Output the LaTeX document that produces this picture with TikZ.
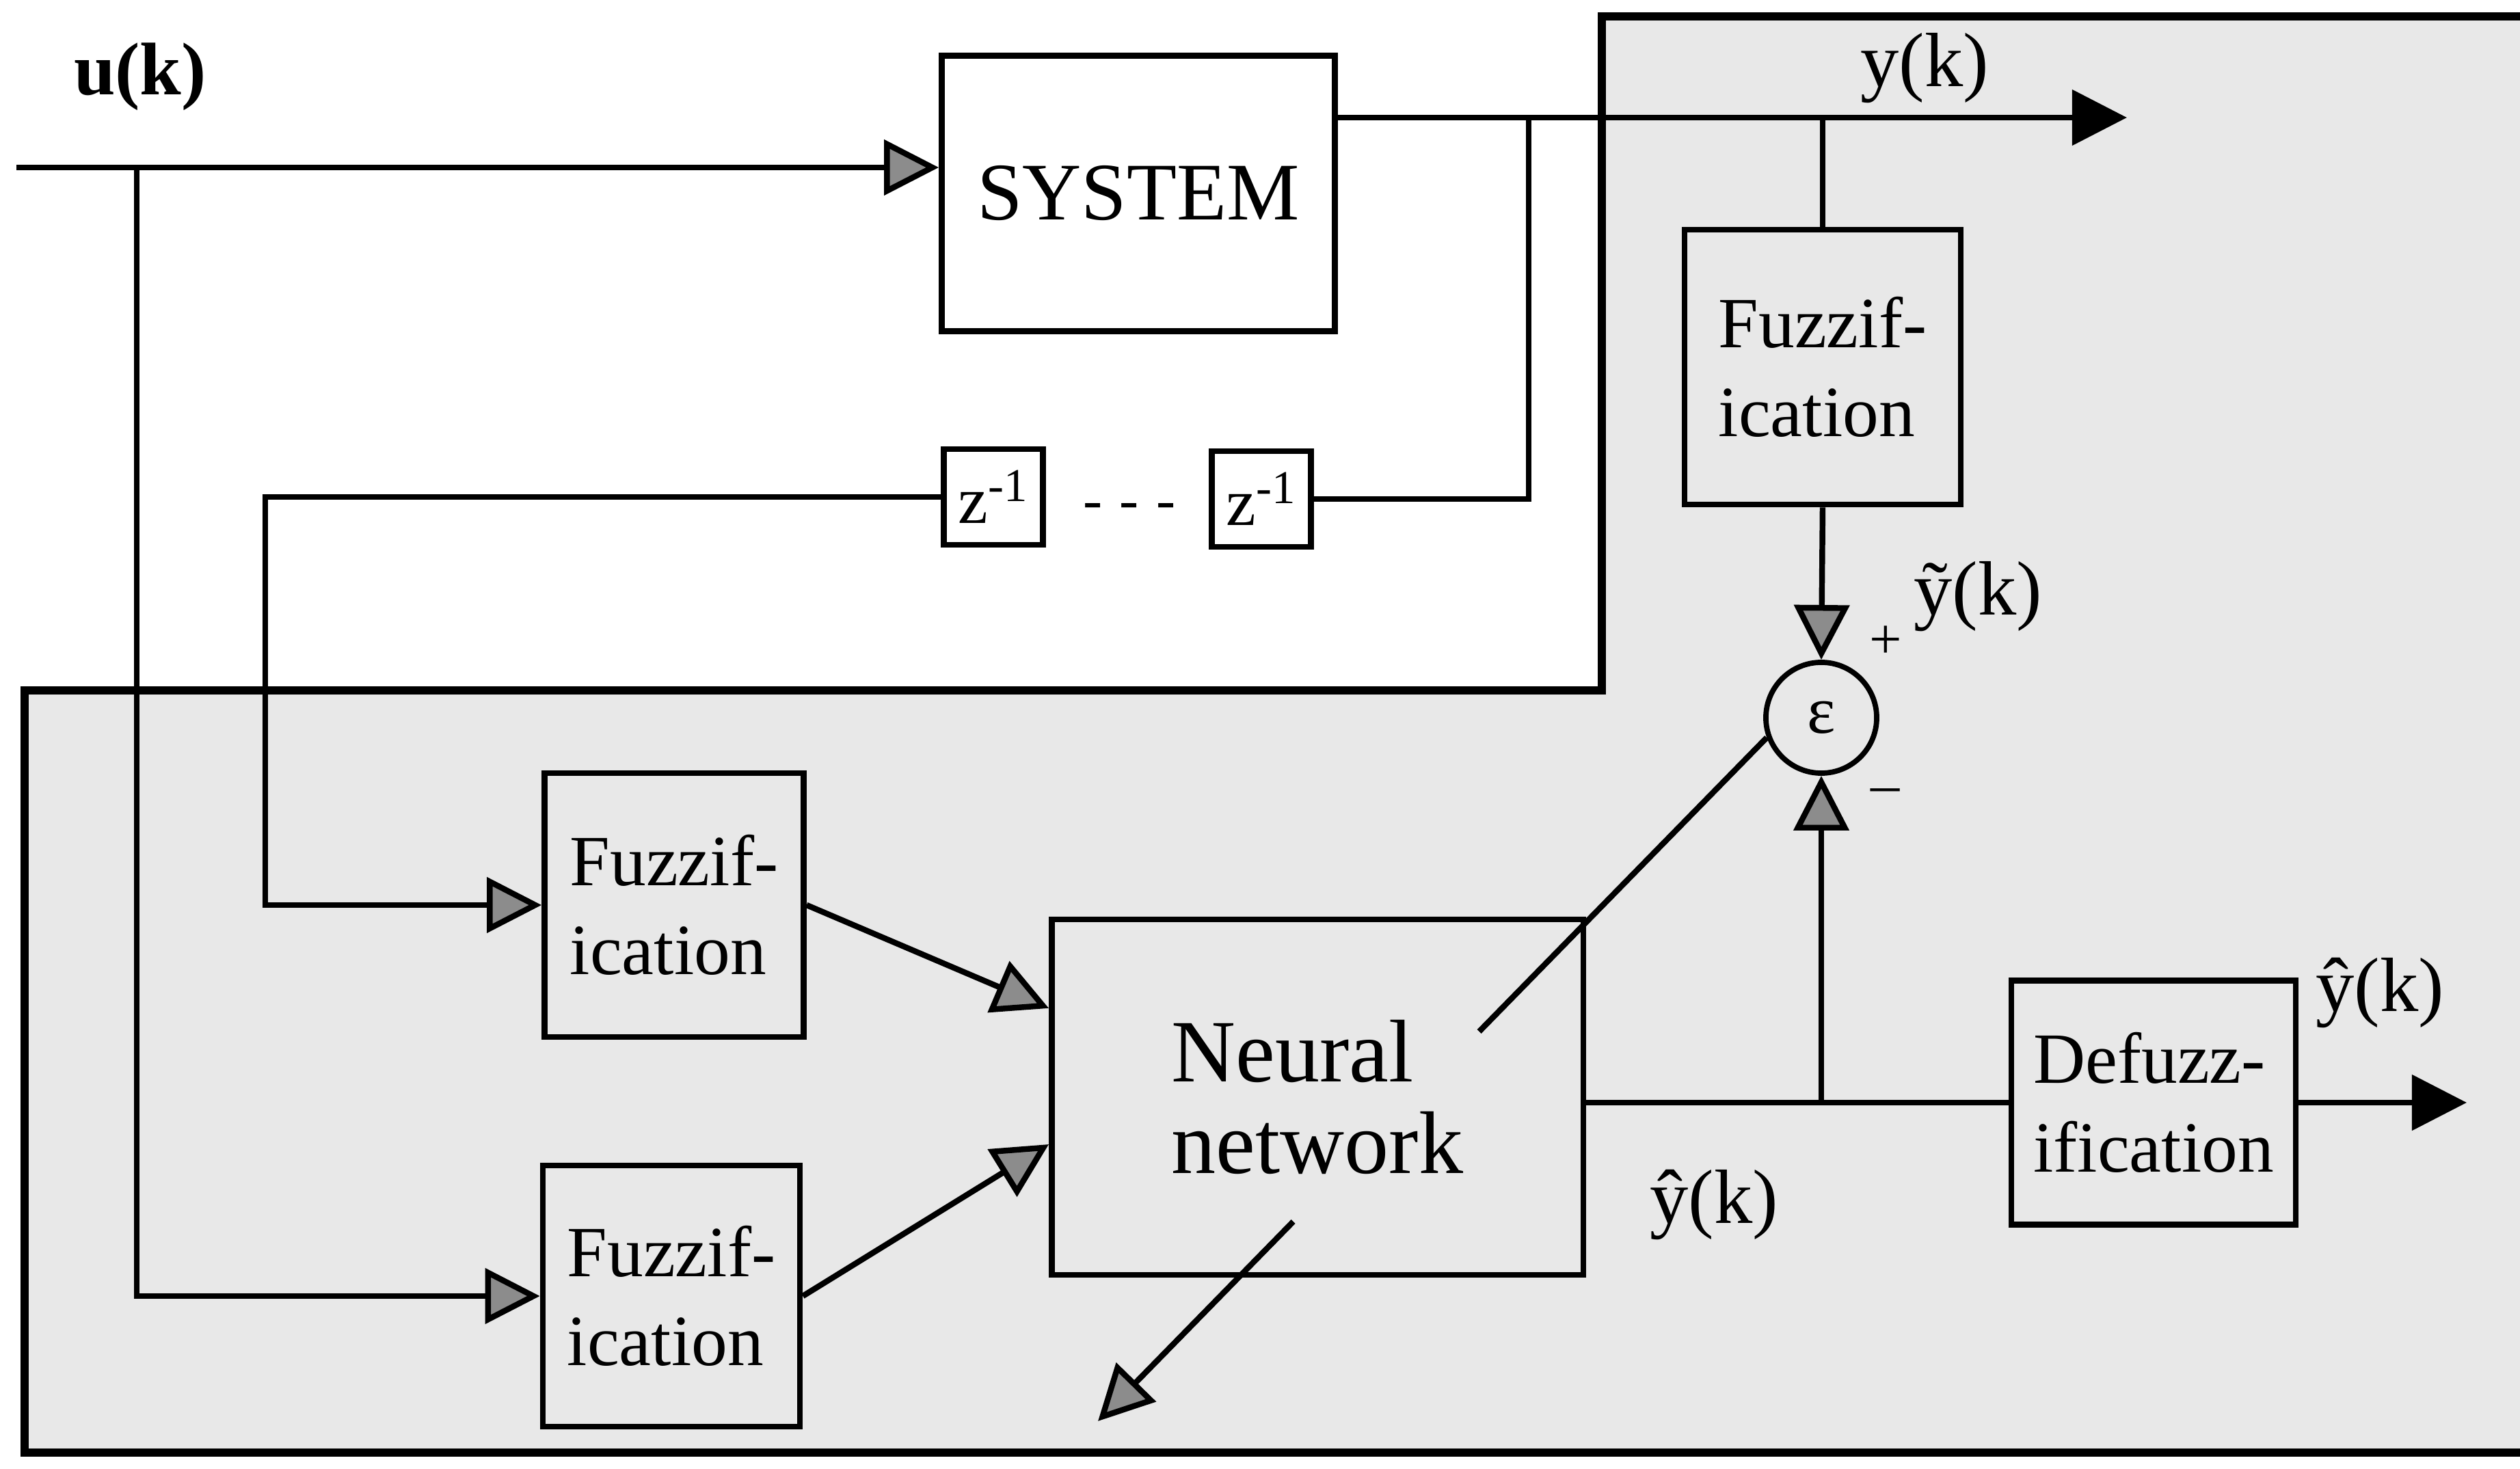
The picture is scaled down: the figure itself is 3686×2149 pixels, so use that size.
\documentclass[tikz,border=0pt]{standalone}
\usepackage{fontspec}
\setmainfont{Liberation Serif}
\usetikzlibrary{arrows.meta,calc}
\definecolor{punteado}{HTML}{E8E8E8}
\definecolor{gris}{HTML}{8C8C8C}
\tikzset{
  bloque/.style={draw,line width=2.4pt,align=left,inner sep=0pt,font=\fontsize{30}{37}\selectfont},
  retardo/.style={draw,line width=2.4pt,minimum width=1.45cm,minimum height=1.4cm,inner sep=0pt,font=\fontsize{28}{28}\selectfont},
  suma/.style={draw,circle,line width=2.2pt,minimum size=1.62cm,inner sep=0pt,font=\fontsize{28}{28}\selectfont},
  linea/.style={line width=2.4pt},
  arrow/.style={linea,-{Triangle[length=8mm,width=8mm,fill=gris]}},
  arrowk/.style={linea,-{Triangle[length=8mm,width=8mm]}},
  rotulo/.style={inner sep=0pt,font=\fontsize{32}{32}\selectfont},
  signo/.style={inner sep=0pt,font=\fontsize{24}{24}\selectfont},
  marco/.style={line width=3.5pt}
}

\begin{document}
\begin{tikzpicture}[x=0.01cm,y=-0.01cm]
\useasboundingbox (0,0) rectangle (3686,2149);
\fill[punteado] (2343,24) -- (3686,24) -- (3686,2125) -- (36,2125) -- (36,1010) -- (2343,1010) -- cycle;
\draw[marco] (3686,24) -- (2343,24) -- (2343,1010) -- (36,1010) -- (36,2125) -- (3686,2125);
\node[bloque,minimum width=5.75cm,minimum height=4.03cm,font=\fontsize{34}{40}\selectfont] (sys) at (1665,283) {SYSTEM};
\node[retardo] (za) at (1453,727) {z\textsuperscript{-1}};
\node[retardo] (zb) at (1845,730) {z\textsuperscript{-1}};
\node[signo] (pts) at (1652,748) {-\hspace{0.25cm}-\hspace{0.25cm}-};
\node[bloque,minimum width=4.04cm,minimum height=4.02cm] (fy) at (2666,537) {Fuzzif-\\ication};
\node[bloque,minimum width=3.79cm,minimum height=3.86cm] (fa) at (986,1324) {Fuzzif-\\ication};
\node[bloque,minimum width=3.76cm,minimum height=3.82cm] (fb) at (982,1896) {Fuzzif-\\ication};
\node[bloque,minimum width=7.77cm,minimum height=5.2cm,font=\fontsize{37}{38}\selectfont] (nn) at (1927,1605) {Neural\\network};
\node[suma] (e) at (2664,1050) {ε};
\node[bloque,minimum width=4.16cm,minimum height=3.57cm] (df) at (3150,1613) {Defuzz-\\ification};
\node[rotulo,font=\bfseries\fontsize{31}{31}\selectfont] (u) at (205,112) {u(k)};
\node[rotulo] (yk) at (2815,100) {y(k)};
\node[rotulo] (yt) at (2893,873) {ỹ(k)};
\node[signo] (mas) at (2758,940) {+};
\node[signo] (menos) at (2758,1165) {–};
\node[rotulo] (yh) at (2507,1762) {ŷ(k)};
\node[rotulo] (yd) at (3481,1452) {ŷ(k)};
\coordinate (uin) at (24,245);
\coordinate (ub) at (200,245);
\coordinate (ys) at (3111,172);
\coordinate (yb) at (2236,172);
\coordinate (yf) at (2666,172);
\coordinate (dz) at (388,727);
\coordinate (j) at (2664,1613);
\coordinate (dout) at (3608,1613);
\coordinate (wt) at (1606,2079);
\draw[arrow] (uin) -- (uin -| sys.west);
\draw[arrow] (ub) |- (fb.west);
\draw[arrowk] (sys.east |- ys) -- (ys);
\draw[linea] (yb) |- (zb.east);
\draw[arrow] (za.west) -- (dz) |- (fa.west);
\draw[linea] (yf) -- (fy.north);
\draw[arrow] (fy.south) -- (e.north);
\draw[arrow] (fa.east) -- ([yshift=1.3cm]nn.west);
\draw[arrow] (fb.east) -- ([yshift=-0.69cm]nn.west);
\draw[linea] (nn.east |- df.west) -- (df.west);
\draw[arrow] (j) -- (e.south);
\draw[arrowk] (df.east) -- (dout);
\draw[linea] (e.200) -- ($(e.200)!0.43!(wt)$);
\draw[arrow] ($(e.200)!0.708!(wt)$) -- (wt);
\end{tikzpicture}
\end{document}
